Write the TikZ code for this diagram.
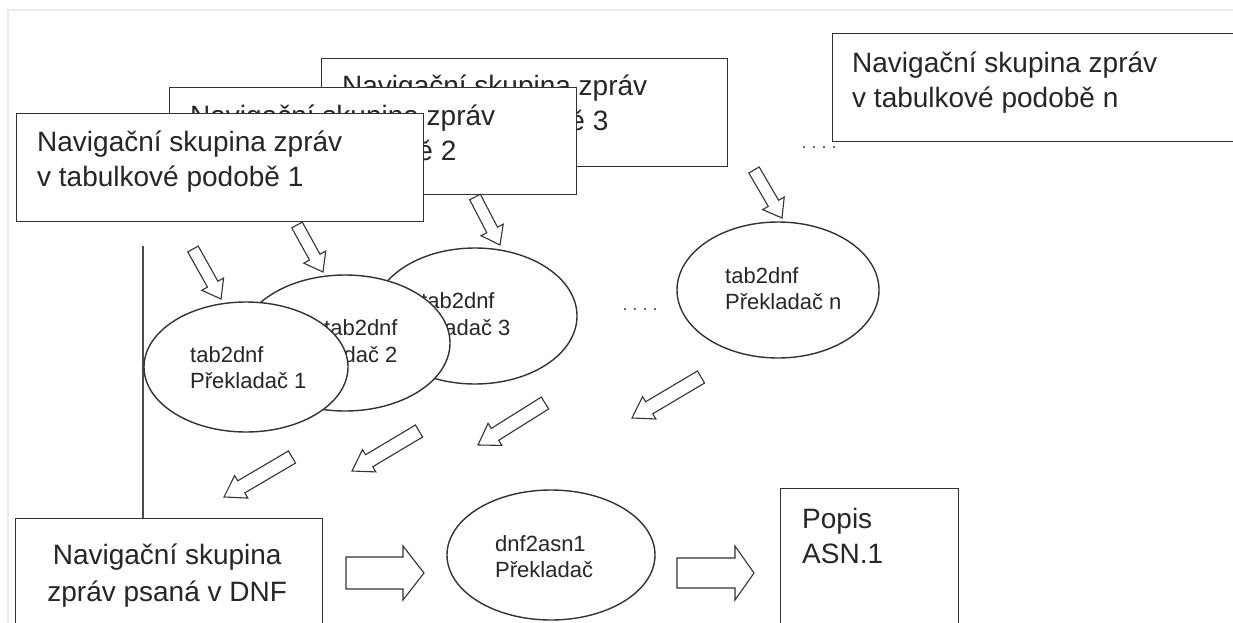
\documentclass[tikz,border=0pt]{standalone}
\usepackage{fontspec}
\setmainfont{Liberation Sans}
\usetikzlibrary{calc,shapes.geometric}
\newcommand\blockarr[5]{%
  \coordinate (hb) at ($(#2)!#5!(#1)$);
  \draw[blockarrow] ($(#1)!#3!90:(#2)$) -- ($(hb)!#3!-90:(#1)$) -- ($(hb)!#4!-90:(#1)$) -- (#2)
    -- ($(hb)!#4!90:(#1)$) -- ($(hb)!#3!90:(#1)$) -- ($(#1)!#3!-90:(#2)$) -- cycle;}
\begin{document}
\begin{tikzpicture}[x=1pt,y=-1pt,
  ln/.style={draw=black!80, line width=1.4pt},
  boxnode/.style={ln, fill=white, rectangle, inner sep=0pt, anchor=north west},
  bigtxt/.style={font=\fontsize{28}{35}\selectfont, align=left, inner sep=0pt, anchor=base west, text=black!85},
  eltxt/.style={font=\fontsize{22}{26}\selectfont, align=left, inner sep=0pt, anchor=base west, text=black!85},
  ellnode/.style={ln, fill=white, ellipse, inner sep=0pt},
  dotstxt/.style={font=\fontsize{18}{20}\selectfont, inner sep=0pt, text=black!70},
  blockarrow/.style={draw=black!80, line width=1.1pt, fill=white, line join=miter}]
\useasboundingbox (0,0) rectangle (1233,623);
\fill[white] (0,0) rectangle (1233,623);
% page frame
\draw[black!8, line width=2pt] (8,623) -- (8,10) -- (1233,10);

% vertical line
\coordinate (vtop) at (143,246);
% boxes (back to front); text anchors are at the baseline of the last line
\node[boxnode, minimum width=405pt, minimum height=108pt] (boxn) at (832,33) {};
\node[bigtxt] (boxnt) at ($(boxn.north west)+(20,74)$) {Navigační skupina zpráv\\v tabulkové podobě n};

\node[boxnode, minimum width=406pt, minimum height=108pt] (box3) at (321,58) {};
\node[bigtxt] (box3t) at ($(box3.north west)+(21,73)$) {Navigační skupina zpráv\\v tabulkové podobě 3};

\node[boxnode, minimum width=407pt, minimum height=107pt] (box2) at (169,87) {};
\node[bigtxt] (box2t) at ($(box2.north west)+(21,73)$) {Navigační skupina zpráv\\v tabulkové podobě 2};

\node[boxnode, minimum width=407pt, minimum height=108pt] (box1) at (16,113) {};
\node[bigtxt] (box1t) at ($(box1.north west)+(21,73)$) {Navigační skupina zpráv\\v tabulkové podobě 1};

\node[boxnode, minimum width=307pt, minimum height=130pt] (boxd) at (15,518) {};
\node[font=\fontsize{28}{37}\selectfont, align=center, inner sep=0pt, anchor=base, text=black!85] (boxdt) at ($(boxd.north)+(-2,83)$) {Navigační skupina\\zpráv psaná v DNF};

\node[boxnode, minimum width=178pt, minimum height=160pt] (boxp) at (780,488) {};
\node[bigtxt] (boxpt) at ($(boxp.north west)+(22,75)$) {Popis\\ASN.1};

\draw[black!70, line width=1.2pt] (vtop) -- (boxd.north -| vtop);

% ellipses (back to front)
\node[ellnode, minimum width=202pt, minimum height=136pt] (elln) at (778,290) {};
\node[eltxt] (ellnt) at (725,309) {tab2dnf\\Překladač n};

\node[ellnode, minimum width=204pt, minimum height=136pt] (ell3) at (475,316) {};
\node[eltxt] (ell3a) at (421,308) {tab2dnf};
\node[eltxt] (ell3b) at (394,335) {Překladač 3};

\node[ellnode, minimum width=210pt, minimum height=136pt] (ell2) at (345,343) {};
\node[eltxt] (ell2a) at (324,335) {tab2dnf};
\node[eltxt] (ell2b) at (281,362) {Překladač 2};

\node[ellnode, minimum width=204pt, minimum height=130pt] (ell1) at (246,367) {};
\node[eltxt] (ell1t) at (190,388) {tab2dnf\\Překladač 1};

\node[ellnode, minimum width=208pt, minimum height=130pt] (elld) at (551,555) {};
\node[eltxt] (elldt) at (495,577) {dnf2asn1\\Překladač};

% dots
\node[dotstxt] (dots1) at (819,148) {.\kern5pt.\kern5pt.\kern5pt.};
\node[dotstxt] (dots2) at (640,310) {.\kern5pt.\kern5pt.\kern5pt.};

% arrows boxes -> ellipses
\coordinate (a1s) at (193,249); \coordinate (a1e) at (221,299);
\coordinate (a2s) at (297,225); \coordinate (a2e) at (323,272);
\coordinate (a3s) at (475,197); \coordinate (a3e) at (500,245);
\coordinate (a4s) at (754,170); \coordinate (a4e) at (782,218);
\blockarr{a1s}{a1e}{6pt}{12.5pt}{17pt}
\blockarr{a2s}{a2e}{6pt}{12.5pt}{17pt}
\blockarr{a3s}{a3e}{6pt}{12.5pt}{17pt}
\blockarr{a4s}{a4e}{6pt}{12.5pt}{17pt}

% arrows ellipses -> DNF
\coordinate (b1s) at (292,457); \coordinate (b1e) at (224,497);
\coordinate (b2s) at (419,431); \coordinate (b2e) at (352,471);
\coordinate (b3s) at (545,403); \coordinate (b3e) at (478,445);
\coordinate (b4s) at (701,377); \coordinate (b4e) at (632,418);
\blockarr{b1s}{b1e}{7pt}{13pt}{20pt}
\blockarr{b2s}{b2e}{7pt}{13pt}{20pt}
\blockarr{b3s}{b3e}{7pt}{13pt}{20pt}
\blockarr{b4s}{b4e}{7pt}{13pt}{20pt}

% horizontal arrows
\coordinate (h1s) at (346,573); \coordinate (h1e) at (424,573);
\coordinate (h2s) at (677,573); \coordinate (h2e) at (754,573);
\blockarr{h1s}{h1e}{16pt}{27pt}{21pt}
\blockarr{h2s}{h2e}{15pt}{27pt}{19pt}
\end{tikzpicture}
\end{document}
